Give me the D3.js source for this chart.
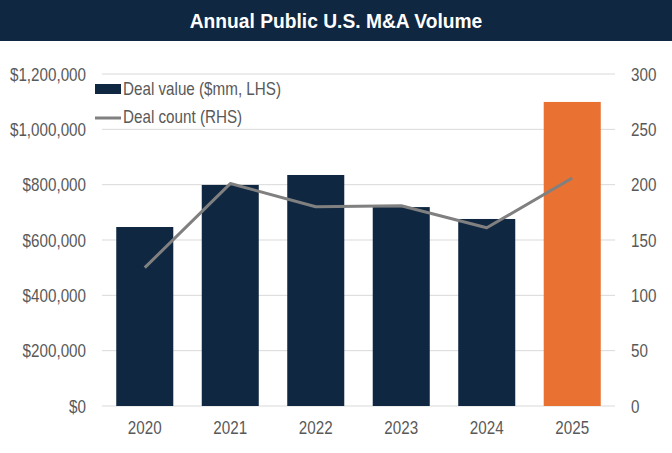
<!DOCTYPE html>
<html>
<head>
<meta charset="utf-8">
<script src="https://cdn.jsdelivr.net/npm/d3@7"></script>
<style>
  body { margin: 0; background: #fff; }
  svg text { font-family: "Liberation Sans Narrow", "Arial Narrow", "Liberation Sans", sans-serif; }
</style>
</head>
<body>
<div id="chart"></div>
<script>
// chart data
const years = ["2020", "2021", "2022", "2023", "2024", "2025"];
const dealValue = [647000, 799000, 835000, 719000, 676000, 1099000];
const dealCount = [125, 201, 180, 181, 161, 206];
const leftTicks = [0, 200000, 400000, 600000, 800000, 1000000, 1200000];
const rightTicks = [0, 50, 100, 150, 200, 250, 300];

const W = 672, H = 453;
const margin = { top: 74, right: 57, bottom: 47, left: 102 };
const width = W - margin.left - margin.right;
const height = H - margin.top - margin.bottom;

const navy = "#0f2741", orange = "#e97132", gray = "#808080", txt = "#595959";

// no narrow font installed, so squeeze the text horizontally
function condense(sel, k) {
    sel.each(function () {
        const w = this.getComputedTextLength();
        d3.select(this)
            .attr("textLength", w * k)
            .attr("lengthAdjust", "spacingAndGlyphs");
    });
}

const svg = d3.select("#chart")
    .append("svg")
    .attr("width", W)
    .attr("height", H);

// title bar
svg.append("rect")
    .attr("x", 0).attr("y", 0)
    .attr("width", W).attr("height", 41)
    .attr("fill", navy);
svg.append("text")
    .attr("x", W / 2)
    .attr("y", 28)
    .attr("text-anchor", "middle")
    .style("font-size", "21px")
    .style("font-weight", "bold")
    .attr("fill", "#fff")
    .text("Annual Public U.S. M&A Volume")
    .call(condense, 0.915);

const g = svg.append("g")
    .attr("transform", `translate(${margin.left},${margin.top})`);

const x = d3.scaleBand()
    .domain(years)
    .range([0, width])
    .paddingInner(0.333)
    .paddingOuter(0.1667);

const yL = d3.scaleLinear().domain([0, 1200000]).range([height, 0]);
const yR = d3.scaleLinear().domain([0, 300]).range([height, 0]);

// gridlines
g.append("g")
    .selectAll("line")
    .data(leftTicks)
    .enter().append("line")
    .attr("x1", 0).attr("x2", width)
    .attr("y1", d => yL(d)).attr("y2", d => yL(d))
    .attr("stroke", "#d9d9d9")
    .attr("stroke-width", 1);

// bars
g.selectAll(".bar")
    .data(years)
    .enter().append("rect")
    .attr("class", "bar")
    .attr("x", d => x(d))
    .attr("width", x.bandwidth())
    .attr("y", (d, i) => yL(dealValue[i]))
    .attr("height", (d, i) => height - yL(dealValue[i]))
    .attr("fill", (d, i) => i === years.length - 1 ? orange : navy);

// line
const line = d3.line()
    .x((d, i) => x(years[i]) + x.bandwidth() / 2)
    .y(d => yR(d));
g.append("path")
    .datum(dealCount)
    .attr("d", line)
    .attr("fill", "none")
    .attr("stroke", gray)
    .attr("stroke-width", 3)
    .attr("stroke-linejoin", "round");

// left axis
const fmt = d => "$" + d3.format(",")(d);
const axL = g.append("g")
    .call(d3.axisLeft(yL).tickValues(leftTicks).tickFormat(fmt).tickSize(0).tickPadding(16));
axL.select(".domain").remove();
axL.selectAll("text").style("font-size", "19px").attr("fill", txt).call(condense, 0.8);

// right axis
const axR = g.append("g")
    .attr("transform", `translate(${width},0)`)
    .call(d3.axisRight(yR).tickValues(rightTicks).tickSize(0).tickPadding(16));
axR.select(".domain").remove();
axR.selectAll("text").style("font-size", "19px").attr("fill", txt).call(condense, 0.8);

// bottom axis
const axB = g.append("g")
    .attr("transform", `translate(0,${height})`)
    .call(d3.axisBottom(x).tickSize(0).tickPadding(15));
axB.select(".domain").remove();
axB.selectAll("text").style("font-size", "19px").attr("fill", txt).call(condense, 0.8);

// legend
const lg = svg.append("g").attr("transform", "translate(95,0)");
lg.append("rect")
    .attr("x", 0).attr("y", 84)
    .attr("width", 26).attr("height", 10)
    .attr("fill", navy);
lg.append("text")
    .attr("x", 28).attr("y", 95)
    .style("font-size", "19px")
    .attr("fill", txt)
    .text("Deal value ($mm, LHS)")
    .call(condense, 0.8);
lg.append("line")
    .attr("x1", 0).attr("x2", 26)
    .attr("y1", 118).attr("y2", 118)
    .attr("stroke", gray)
    .attr("stroke-width", 3);
lg.append("text")
    .attr("x", 28).attr("y", 123)
    .style("font-size", "19px")
    .attr("fill", txt)
    .text("Deal count (RHS)")
    .call(condense, 0.8);
</script>
</body>
</html>
